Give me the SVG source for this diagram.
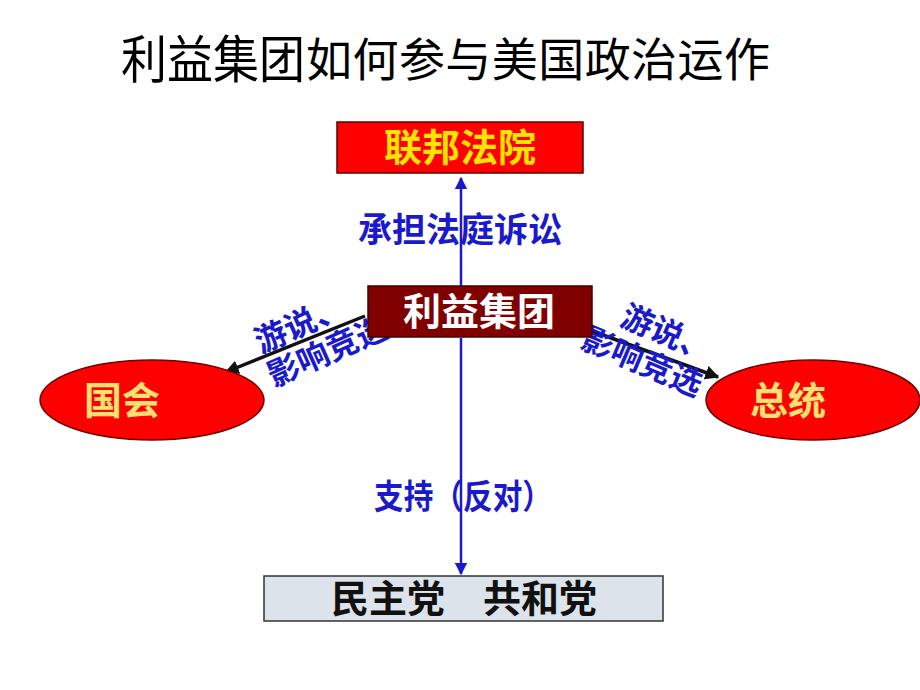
<svg xmlns="http://www.w3.org/2000/svg" width="920" height="690" viewBox="0 0 920 690">
<defs>
<style>
text{font-family:"Noto Sans CJK SC","Noto Sans",sans-serif;text-anchor:middle}
.title{font-weight:400;fill:#000;text-anchor:start}
.lbl{font-size:34px;font-weight:700;fill:#1a1acc}
.rl{font-size:32px;font-weight:700;fill:#1a1acc}
.node{font-size:38px;font-weight:700}
.blue{stroke:#1a1acc;stroke-width:2.5;fill:none}
.black{stroke:#111;stroke-width:3.5;fill:none}
</style>
<marker id="ab" viewBox="0 0 10 10" refX="9" refY="5" markerWidth="5" markerHeight="5" orient="auto"><path d="M0,0L10,5L0,10z" fill="#1a1acc"/></marker>
<marker id="ak" viewBox="0 0 10 10" refX="9" refY="5" markerWidth="4" markerHeight="4" orient="auto"><path d="M0,0L10,5L0,10z" fill="#111"/></marker>
</defs>
<rect width="920" height="690" fill="#fff"/>
<text class="title" x="121" y="78" font-size="51" textLength="184" lengthAdjust="spacingAndGlyphs">利益集团</text>
<text class="title" x="306" y="76" font-size="46" textLength="464" lengthAdjust="spacing">如何参与美国政治运作</text>
<g id="connectors">
<line class="blue" x1="461" y1="288" x2="461" y2="178" marker-end="url(#ab)"/>
<line class="blue" x1="461" y1="338" x2="461" y2="574" marker-end="url(#ab)"/>
<line class="black" x1="365" y1="316" x2="226" y2="372" marker-end="url(#ak)"/>
<line class="black" x1="592" y1="331" x2="718" y2="377" marker-end="url(#ak)"/>
<text class="lbl" x="460" y="242">承担法庭诉讼</text>
<text class="lbl" x="463" y="509" textLength="178" lengthAdjust="spacingAndGlyphs">支持（反对）</text>
<g transform="translate(314,340) rotate(-24)">
<text class="rl" x="-6" y="-9">游说、</text>
<text class="rl" x="8" y="27">影响竞选</text>
</g>
<g transform="translate(650,348) rotate(23)">
<text class="rl" x="10" y="-9">游说、</text>
<text class="rl" x="-2" y="27">影响竞选</text>
</g>
</g>
<g id="court">
<rect x="337" y="122" width="246" height="51" fill="#ff0000" stroke="#5a0000" stroke-width="1.5"/>
<text class="node" x="460" y="161" fill="#ffe400">联邦法院</text>
</g>
<g id="group">
<rect x="368" y="286" width="224" height="51" fill="#800000" stroke="#400000" stroke-width="1.5"/>
<text class="node" x="479" y="325" fill="#fff">利益集团</text>
</g>
<g id="congress">
<ellipse cx="152" cy="400" rx="112" ry="40" fill="#ff0000" stroke="#700000" stroke-width="1.5"/>
<text class="node" x="122" y="414" fill="#ffe070">国会</text>
</g>
<g id="president">
<ellipse cx="813" cy="400" rx="107" ry="40" fill="#ff0000" stroke="#700000" stroke-width="1.5"/>
<text class="node" x="788" y="414" fill="#ffe070">总统</text>
</g>
<g id="parties">
<rect x="264" y="576" width="399" height="45" fill="#dde3ea" stroke="#333" stroke-width="1.5"/>
<text class="node" x="464" y="612" fill="#111" xml:space="preserve">民主党　共和党</text>
</g>
</svg>
